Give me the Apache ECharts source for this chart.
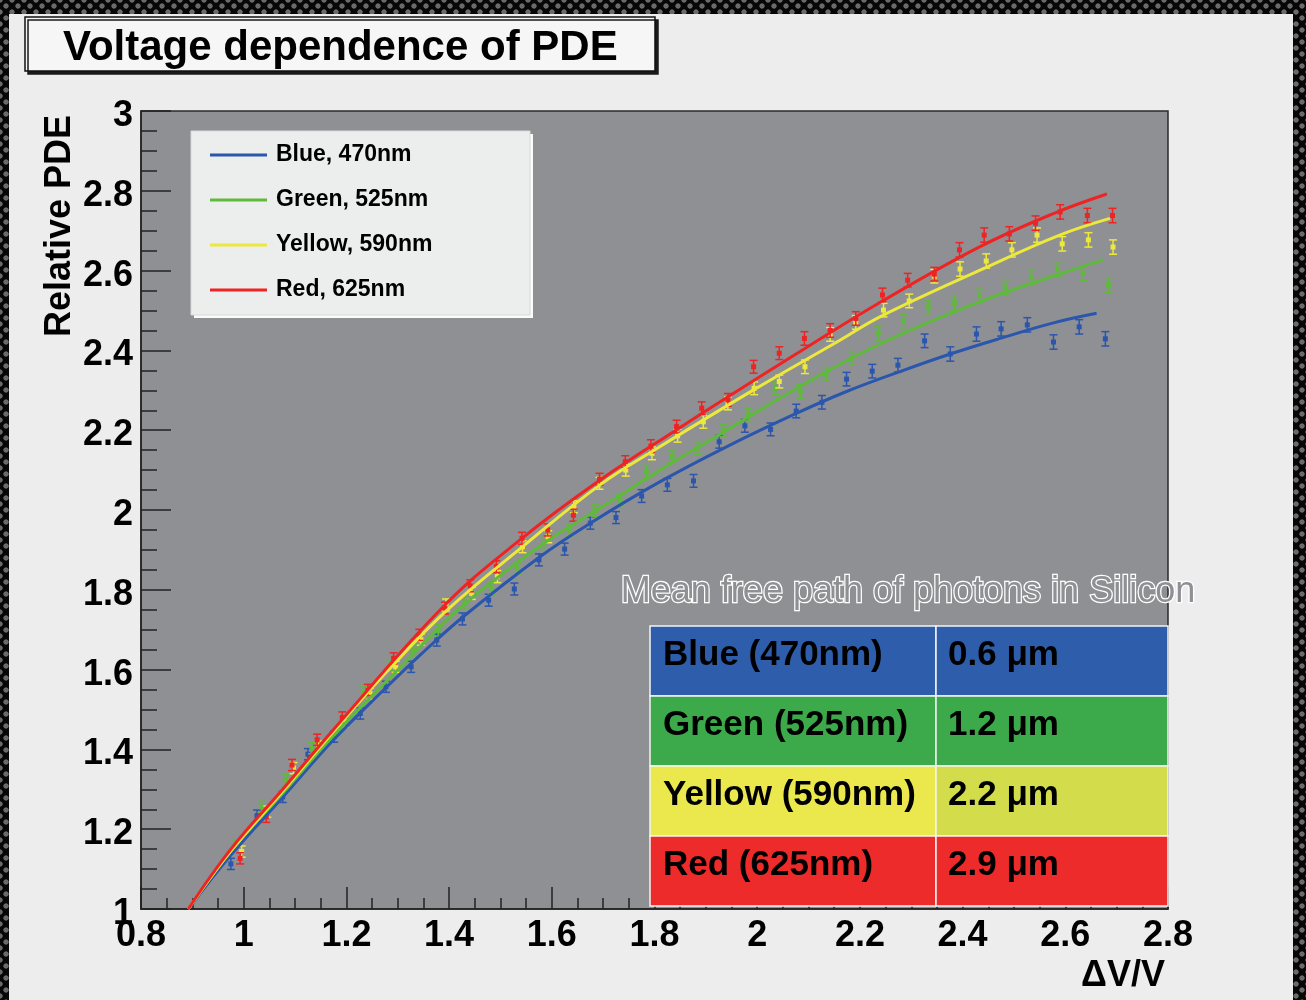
<!DOCTYPE html>
<html>
<head>
<meta charset="utf-8">
<script src="https://cdn.jsdelivr.net/npm/echarts@6.0.0/dist/echarts.min.js"></script>
<style>
  html, body { margin: 0; padding: 0; }
  body {
    width: 1306px; height: 1000px; overflow: hidden; position: relative;
    background-color: #070707;
    background-image:
      radial-gradient(circle, #6a6a6a 0 2.3px, transparent 3px),
      radial-gradient(circle, #6a6a6a 0 2.3px, transparent 3px);
    background-size: 12px 12px, 12px 12px;
    background-position: 0 0, 6px 6px;
  }
  #panel { position: absolute; left: 9px; top: 14px; width: 1284px; height: 986px; background: #ecedec; }
  #chart { position: absolute; left: 0; top: 0; width: 1306px; height: 1000px; }
</style>
</head>
<body>
<div id="panel"></div>
<div id="chart"></div>
<script>
// ---------- data ----------
const seriesNames = ['Blue, 470nm', 'Green, 525nm', 'Yellow, 590nm', 'Red, 625nm'];

// measured points
const blueX = [0.975,1.026,1.076,1.125,1.176,1.227,1.277,1.326,1.376,1.426,1.477,1.527,1.575,1.625,1.675,1.725,1.775,1.825,1.876,1.926,1.976,2.026,2.076,2.126,2.174,2.224,2.274,2.326,2.376,2.427,2.475,2.526,2.577,2.627,2.678];
const blueY = [1.113,1.234,1.281,1.388,1.432,1.490,1.557,1.607,1.674,1.727,1.774,1.802,1.875,1.902,1.967,1.981,2.035,2.063,2.073,2.171,2.211,2.202,2.248,2.270,2.328,2.348,2.363,2.424,2.391,2.441,2.454,2.464,2.421,2.459,2.429];

const greenX = [0.983,1.035,1.083,1.133,1.185,1.233,1.285,1.330,1.379,1.431,1.483,1.533,1.584,1.634,1.684,1.733,1.784,1.834,1.884,1.934,1.983,2.035,2.084,2.134,2.184,2.236,2.285,2.333,2.384,2.433,2.483,2.534,2.585,2.635,2.684];
const greenY = [1.156,1.256,1.323,1.403,1.449,1.545,1.611,1.649,1.699,1.766,1.804,1.854,1.916,1.950,1.998,2.025,2.096,2.134,2.155,2.199,2.238,2.305,2.297,2.340,2.380,2.443,2.474,2.509,2.519,2.539,2.559,2.584,2.604,2.594,2.564];

const yellowX = [0.996,1.046,1.097,1.146,1.196,1.246,1.296,1.345,1.394,1.444,1.494,1.543,1.593,1.643,1.693,1.744,1.795,1.845,1.895,1.943,1.994,2.043,2.093,2.142,2.192,2.246,2.296,2.345,2.395,2.446,2.496,2.545,2.594,2.645,2.693];
const yellowY = [1.144,1.244,1.353,1.407,1.470,1.540,1.607,1.675,1.762,1.791,1.833,1.908,1.933,2.008,2.067,2.100,2.142,2.186,2.221,2.267,2.305,2.322,2.359,2.440,2.470,2.501,2.524,2.586,2.604,2.624,2.652,2.689,2.667,2.677,2.659];

const redX = [0.993,1.044,1.094,1.143,1.192,1.242,1.292,1.342,1.392,1.441,1.492,1.542,1.592,1.642,1.693,1.743,1.793,1.843,1.892,1.943,1.993,2.043,2.092,2.142,2.192,2.244,2.293,2.345,2.394,2.442,2.491,2.542,2.590,2.643,2.692];
const redY = [1.127,1.231,1.361,1.424,1.480,1.549,1.628,1.687,1.754,1.810,1.858,1.929,1.950,1.987,2.077,2.121,2.160,2.209,2.255,2.276,2.359,2.393,2.430,2.450,2.480,2.539,2.576,2.591,2.652,2.689,2.692,2.719,2.747,2.738,2.738];

// error bar half-heights (same for all colours, per point index)
const errHalf = [0.014,0.014,0.014,0.014,0.014,0.014,0.014,0.014,0.015,0.015,0.015,0.015,0.015,0.015,0.015,0.015,0.016,0.016,0.016,0.016,0.016,0.016,0.017,0.017,0.017,0.017,0.017,0.017,0.018,0.018,0.018,0.018,0.018,0.018,0.018];

// fitted curves
const blueFitX = [0.892,0.975,1.076,1.175,1.279,1.344,1.428,1.577,1.675,1.811,1.941,2.076,2.174,2.278,2.376,2.473,2.577,2.661];
const blueFitY = [1.000,1.135,1.280,1.424,1.557,1.637,1.733,1.883,1.967,2.071,2.159,2.242,2.297,2.347,2.391,2.430,2.469,2.493];
const greenFitX = [0.892,0.975,1.076,1.175,1.285,1.376,1.435,1.584,1.688,1.811,1.934,2.084,2.239,2.434,2.583,2.674];
const greenFitY = [1.000,1.145,1.290,1.435,1.580,1.699,1.770,1.916,2.000,2.100,2.195,2.310,2.416,2.522,2.589,2.627];
const yellowFitX = [0.892,0.975,1.076,1.175,1.279,1.396,1.545,1.694,1.811,1.993,2.162,2.239,2.434,2.589,2.687];
const yellowFitY = [1.000,1.145,1.295,1.445,1.595,1.749,1.910,2.063,2.159,2.301,2.426,2.484,2.601,2.689,2.731];
const redFitX = [0.892,0.975,1.076,1.175,1.389,1.538,1.694,1.850,1.941,2.103,2.239,2.434,2.577,2.681];
const redFitY = [1.000,1.150,1.300,1.450,1.758,1.925,2.075,2.207,2.282,2.413,2.520,2.660,2.743,2.792];

// table
const tableTitle = 'Mean free path of photons in Silicon';
const tableLabels = ['Blue (470nm)', 'Green (525nm)', 'Yellow (590nm)', 'Red (625nm)'];
const tableValues = ['0.6 μm', '1.2 μm', '2.2 μm', '2.9 μm'];

// ---------- styling ----------
const FONT = "'Liberation Sans', Arial, Helvetica, sans-serif";
const colors = ['#2b56ad', '#5fba3b', '#ece83c', '#ee2323'];
const tableLeftColors = ['#2e5dab', '#3caa4a', '#eae84c', '#ee2b2b'];
const tableRightColors = ['#2e5dab', '#3caa4a', '#d3dd4b', '#ee2b2b'];

const zip = (xs, ys) => xs.map((x, i) => [x, ys[i]]);
const zipErr = (xs, ys) => xs.map((x, i) => [x, ys[i], errHalf[i]]);

const pts = [[blueX, blueY], [greenX, greenY], [yellowX, yellowY], [redX, redY]];
const fits = [[blueFitX, blueFitY], [greenFitX, greenFitY], [yellowFitX, yellowFitY], [redFitX, redFitY]];

const series = [];
seriesNames.forEach((name, k) => {
  const c = colors[k];
  series.push({
    name, type: 'custom', z: 3,
    data: zipErr(pts[k][0], pts[k][1]),
    encode: { x: 0, y: 1 },
    itemStyle: { color: c },
    renderItem: (params, api) => {
      const x = api.value(0), y = api.value(1), e = api.value(2);
      const p = api.coord([x, y]);
      const hi = api.coord([x, y + e]);
      const lo = api.coord([x, y - e]);
      const w = 4;
      const st = { stroke: c, lineWidth: 1.5 };
      return { type: 'group', children: [
        { type: 'line', shape: { x1: p[0], y1: hi[1], x2: p[0], y2: lo[1] }, style: st },
        { type: 'line', shape: { x1: p[0] - w, y1: hi[1], x2: p[0] + w, y2: hi[1] }, style: st },
        { type: 'line', shape: { x1: p[0] - w, y1: lo[1], x2: p[0] + w, y2: lo[1] }, style: st },
        { type: 'rect', shape: { x: p[0] - 2.5, y: p[1] - 2.5, width: 5, height: 5 }, style: { fill: c } }
      ]};
    }
  });
});
seriesNames.forEach((name, k) => {
  series.push({
    name, type: 'line', z: 4,
    data: zip(fits[k][0], fits[k][1]),
    smooth: 0.4, symbol: 'none',
    lineStyle: { color: colors[k], width: 3 },
    itemStyle: { color: colors[k] }
  });
});

// table graphics
const TX = 650, TY = 626, RH = 70, C1 = 286, C2 = 232;
const tableEls = [];
tableLabels.forEach((lab, i) => {
  const y = TY + i * RH;
  tableEls.push({ type: 'rect', shape: { x: TX, y, width: C1, height: RH }, style: { fill: tableLeftColors[i], stroke: '#f4f4f4', lineWidth: 1.5 }, z: 10 });
  tableEls.push({ type: 'rect', shape: { x: TX + C1, y, width: C2, height: RH }, style: { fill: tableRightColors[i], stroke: '#f4f4f4', lineWidth: 1.5 }, z: 10 });
  tableEls.push({ type: 'text', x: TX + 13, y: y + RH / 2 - 6, style: { text: lab, fill: '#000', font: 'bold 35px ' + FONT, textVerticalAlign: 'middle', verticalAlign: 'middle' }, z: 11 });
  tableEls.push({ type: 'text', x: TX + C1 + 12, y: y + RH / 2 - 6, style: { text: tableValues[i], fill: '#000', font: 'bold 35px ' + FONT, textVerticalAlign: 'middle', verticalAlign: 'middle' }, z: 11 });
});
tableEls.push({ type: 'text', x: 908, y: 592, style: { text: tableTitle, font: '36px ' + FONT, fill: '#8f9094', stroke: '#ffffff', lineWidth: 2.5, align: 'center', verticalAlign: 'middle', textAlign: 'center', textVerticalAlign: 'middle', shadowColor: 'rgba(0,0,0,1)', shadowBlur: 2 }, z: 11 });

// legend box
const legendBox = [
  { type: 'rect', shape: { x: 194, y: 134, width: 339, height: 184 }, style: { fill: '#fbfbfb' }, z: 8 },
  { type: 'rect', shape: { x: 191, y: 131, width: 339, height: 184 }, style: { fill: '#eceeed', stroke: '#d8d8d8', lineWidth: 1 }, z: 9 }
];

const chart = echarts.init(document.getElementById('chart'), null, { renderer: 'canvas' });
chart.setOption({
  backgroundColor: 'transparent',
  animation: false,
  textStyle: { fontFamily: FONT },
  title: {
    text: 'Voltage dependence of PDE',
    left: 25, top: 17,
    padding: [9, 38, 1, 38],
    backgroundColor: '#f6f6f6',
    borderColor: '#111', borderWidth: 1.5,
    shadowColor: '#1a1a1a', shadowOffsetX: 3, shadowOffsetY: 3, shadowBlur: 0,
    textStyle: { fontFamily: FONT, fontSize: 42, fontWeight: 'bold', color: '#000', lineHeight: 44 }
  },
  legend: {
    data: seriesNames,
    orient: 'vertical',
    left: 205, top: 138,
    icon: 'rect', itemWidth: 57, itemHeight: 3,
    itemGap: 21,
    z: 12,
    selectedMode: false,
    textStyle: { fontFamily: FONT, fontSize: 23, fontWeight: 'bold', color: '#000', lineHeight: 24, padding: [0, 0, 0, 4] }
  },
  grid: {
    left: 141, right: 138, top: 111, bottom: 91,
    show: true, backgroundColor: '#8f9094', borderColor: '#2a2a2a', borderWidth: 1.5
  },
  xAxis: {
    type: 'value', min: 0.8, max: 2.8, interval: 0.2,
    name: 'ΔV/V', nameLocation: 'end', nameGap: -3,
    nameTextStyle: { fontFamily: FONT, fontSize: 36, fontWeight: 'bold', color: '#000', align: 'right', verticalAlign: 'top', padding: [49, 0, 0, 0] },
    axisLine: { show: true, lineStyle: { color: '#222', width: 1.5 } },
    axisTick: { show: true, inside: true, length: 22, lineStyle: { color: '#222', width: 1.5 } },
    minorTick: { show: true, splitNumber: 4, length: 11, lineStyle: { color: '#222', width: 1.5 } },
    splitLine: { show: false },
    axisLabel: { margin: 9, fontFamily: FONT, fontSize: 36, fontWeight: 'bold', color: '#000' }
  },
  yAxis: {
    type: 'value', min: 1, max: 3, interval: 0.2,
    name: 'Relative PDE', nameLocation: 'end', nameRotate: 90, nameGap: -4,
    nameTextStyle: { fontFamily: FONT, fontSize: 36, fontWeight: 'bold', color: '#000', align: 'right', verticalAlign: 'bottom', padding: [0, 0, 63, 0] },
    axisLine: { show: true, lineStyle: { color: '#222', width: 1.5 } },
    axisTick: { show: true, inside: true, length: 30, lineStyle: { color: '#222', width: 1.5 } },
    minorTick: { show: true, splitNumber: 4, length: 16, lineStyle: { color: '#222', width: 1.5 } },
    splitLine: { show: false },
    axisLabel: { margin: 8, verticalAlign: 'top', lineHeight: 10, fontFamily: FONT, fontSize: 36, fontWeight: 'bold', color: '#000' }
  },
  graphic: { elements: legendBox.concat(tableEls) },
  series
});
</script>
</body>
</html>
